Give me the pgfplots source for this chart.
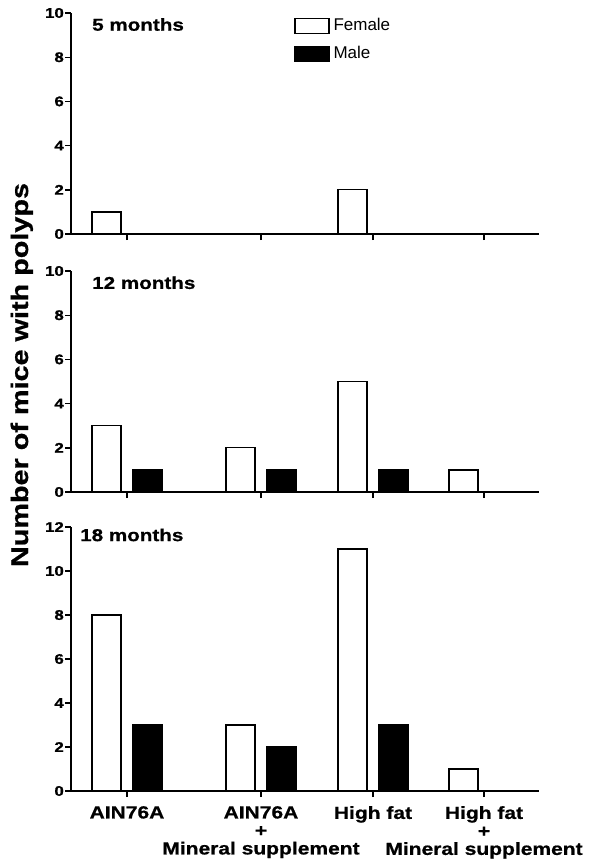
\documentclass[border=0pt]{standalone}
\usepackage{pgfplots}
\pgfplotsset{compat=1.18}
\usepackage{fontspec}
\setmainfont{Liberation Sans}[BoldFeatures={FakeStretch=1.2,FakeBold=0.8}]

\pgfplotsset{
 panel/.style={
  scale only axis, width=468pt, xmin=71, xmax=539, ymin=0,
  axis x line*=bottom, axis y line*=left,
  axis line style={line width=1.6pt, -},
  xtick={127,261,373,484}, xticklabels={},
  tick style={line width=1.4pt, black},
  major tick length=6pt, tick align=outside,
  ytick distance=2,
  /pgf/number format/assume math mode=true,
  yticklabel style={font=\fontsize{14}{14}\selectfont\bfseries, inner sep=0pt, xshift=-1pt},
  clip=false,
 },
 fem/.style={ybar, bar width=29pt, bar shift=0pt, fill=white, draw=black, line width=1.3pt},
 mal/.style={ybar, bar width=29pt, bar shift=0pt, fill=black, draw=black, line width=1.3pt},
}

\begin{document}
\begin{tikzpicture}
\useasboundingbox (0pt,0pt) rectangle (592pt,-865pt);

% Panel 1: 5 months
\begin{axis}[panel, height=221pt, ymax=10, at={(71pt,-234pt)}, anchor=south west,
  legend style={at={(axis cs:294,9.8)}, anchor=north west, draw=none, fill=none,
    inner sep=0pt, font=\fontsize{17}{17}\selectfont, row sep=12pt, column sep=4pt,
    nodes={inner sep=0pt}},
  legend cell align=left]
\addplot[fem, forget plot] coordinates {(106.5,1) (240.5,0) (352.5,2) (463.5,0)};
\addplot[mal, forget plot] coordinates {(147.5,0) (281.5,0) (393.5,0) (504.5,0)};
\addlegendimage{legend image code/.code={\draw[line width=1.3pt, fill=white] (0pt,-8pt) rectangle (34pt,7pt);}}
\addlegendentry{Female}
\addlegendimage{legend image code/.code={\draw[line width=1.3pt, fill=black] (0pt,-8pt) rectangle (34pt,7pt);}}
\addlegendentry{Male}
\node[anchor=base west, font=\fontsize{17.2}{17.2}\selectfont\bfseries, inner sep=0pt] at (axis cs:92,9.2) {5 months};
\end{axis}

% Panel 2: 12 months
\begin{axis}[panel, height=221pt, ymax=10, at={(71pt,-492pt)}, anchor=south west]
\addplot[fem] coordinates {(106.5,3) (240.5,2) (352.5,5) (463.5,1)};
\addplot[mal] coordinates {(147.5,1) (281.5,1) (393.5,1) (504.5,0)};
\node[anchor=base west, font=\fontsize{17.2}{17.2}\selectfont\bfseries, inner sep=0pt] at (axis cs:92,9.19) {12 months};
\end{axis}

% Panel 3: 18 months
\begin{axis}[panel, height=264pt, ymax=12, at={(71pt,-791pt)}, anchor=south west,
  xticklabels={AIN76A, {AIN76A\\+\\Mineral supplement}, High fat, {High fat\\+\\Mineral supplement}},
  xticklabel style={align=center, font=\fontsize{17.5}{18}\selectfont\bfseries, anchor=north, inner sep=2pt, yshift=-7pt}]
\addplot[fem] coordinates {(106.5,8) (240.5,3) (352.5,11) (463.5,1)};
\addplot[mal] coordinates {(147.5,3) (281.5,2) (393.5,3) (504.5,0)};
\node[anchor=base west, font=\fontsize{17.2}{17.2}\selectfont\bfseries, inner sep=0pt] at (axis cs:80,11.36) {18 months};
\end{axis}

\node[rotate=90, anchor=base, font=\fontsize{24}{24}\selectfont\bfseries, inner sep=0pt] at (28pt,-375pt) {Number of mice with polyps};
\end{tikzpicture}
\end{document}
